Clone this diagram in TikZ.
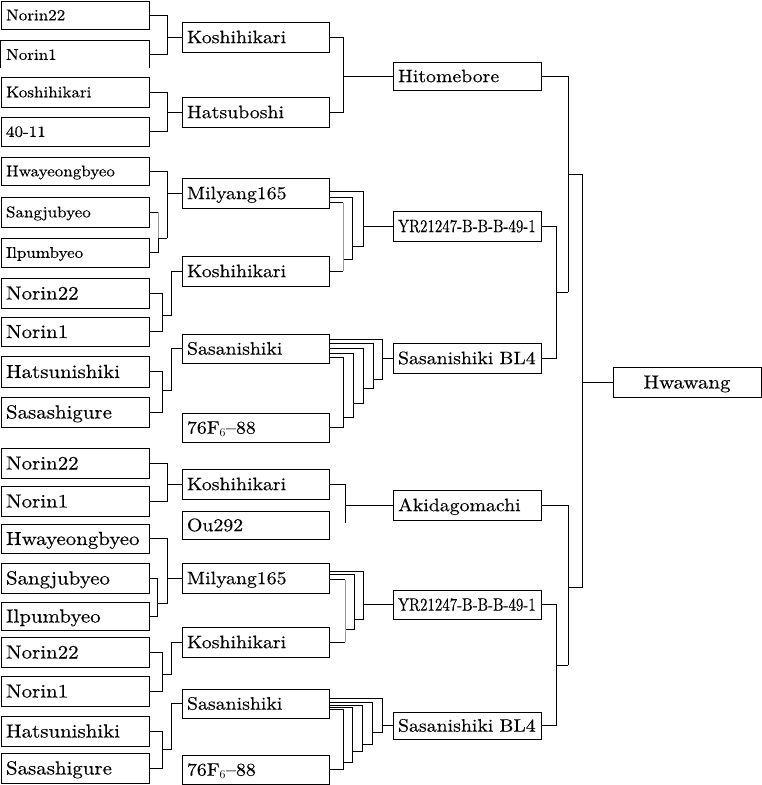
\documentclass[tikz,border=0pt]{standalone}
\usepackage{fontspec}
\setmainfont{lmroman10-regular.otf}[FakeStretch=1.1,FakeBold=0.3]
\usepackage{graphicx}
\usetikzlibrary{calc}
\newcommand\myfs{\fontsize{15.5}{18}\selectfont}
\newcommand\myfl{\fontsize{19}{22}\selectfont}
\newcommand\myfm{\fontsize{18}{21}\selectfont}
\tikzset{
  bx/.style={inner sep=0pt, text depth=0pt, align=left, line width=0.8pt},
  lbox/.style={bx, draw, minimum width=148pt, text width=138pt},
  mbox/.style={bx, draw, minimum width=147pt, text width=137pt, font=\myfm, text height=12.3pt},
  rbox/.style={bx, draw, minimum width=148pt, text width=138pt, font=\myfm, text height=12.3pt},
  sm/.style={font=\myfs, text height=10.6pt},
  lg/.style={font=\myfl, text height=13pt},
  grayline/.style={draw=black!40},
}
\begin{document}
\begin{tikzpicture}[x=1pt,y=-1pt,line width=0.8pt]
\useasboundingbox (0,0) rectangle (762,785);
% left column
\node[lbox,sm,minimum height=28] (L1) at (75,15) {Norin22};
\node[bx,text width=138pt,minimum width=148pt,sm,minimum height=27] (L2) at (75,54.5) {Norin1};
\draw (L2.south west) -- (L2.north west) -- (L2.north east) -- (L2.south east);
\node[lbox,sm,minimum height=30] (L3) at (75,92) {Koshihikari};
\node[lbox,sm,minimum height=29] (L4) at (75,131.5) {40-11};
\node[lbox,sm,minimum height=28] (L5) at (75,171) {Hwayeongbyeo};
\node[lbox,sm,minimum height=30] (L6) at (75,212) {Sangjubyeo};
\node[lbox,sm,minimum height=29] (L7) at (75,252.5) {Ilpumbyeo};
\node[lbox,lg,minimum height=30] (L8) at (75,293) {Norin22};
\node[lbox,lg,minimum height=29] (L9) at (75,331.5) {Norin1};
\node[lbox,lg,minimum height=31] (L10) at (75,371.5) {Hatsunishiki};
\node[lbox,lg,minimum height=30] (L11) at (75,412) {Sasashigure};
\node[lbox,lg,minimum height=30] (L12) at (75,463) {Norin22};
\node[lbox,lg,minimum height=30] (L13) at (75,501) {Norin1};
\node[lbox,lg,minimum height=29] (L14) at (75,538.5) {Hwayeongbyeo};
\node[lbox,lg,minimum height=30] (L15) at (75,578) {Sangjubyeo};
\node[lbox,lg,minimum height=28] (L16) at (75,616) {Ilpumbyeo};
\node[lbox,lg,minimum height=30] (L17) at (75,652) {Norin22};
\node[lbox,lg,minimum height=30] (L18) at (75,691) {Norin1};
\node[lbox,lg,minimum height=30] (L19) at (75,731) {Hatsunishiki};
\node[lbox,lg,minimum height=30] (L20) at (75,768) {Sasashigure};
% middle column
\node[mbox,minimum height=30] (M1) at (255.5,37) {Koshihikari};
\node[mbox,minimum height=30] (M2) at (255.5,112) {Hatsuboshi};
\node[mbox,minimum height=30] (M3) at (255.5,193) {Milyang165};
\node[mbox,minimum height=30] (M4) at (255.5,271) {Koshihikari};
\node[mbox,minimum height=29] (M5) at (255.5,348.5) {Sasanishiki};
\node[mbox,minimum height=29] (M6) at (255.5,427.5) {76F$_6$--88};
\node[mbox,minimum height=30] (M7) at (255.5,484) {Koshihikari};
\node[mbox,minimum height=28] (M8) at (255.5,525) {Ou292};
\node[mbox,minimum height=30] (M9) at (255.5,578) {Milyang165};
\node[mbox,minimum height=30] (M10) at (255.5,642) {Koshihikari};
\node[mbox,minimum height=29] (M11) at (255.5,703.5) {Sasanishiki};
\node[mbox,minimum height=29] (M12) at (255.5,769.5) {76F$_6$--88};
% right column
\node[rbox,minimum height=28] (R1) at (467,76) {Hitomebore};
\node[rbox,minimum height=30] (R2) at (467,226) {\scalebox{0.75}[1]{YR21247-B-B-B-49-1}};
\node[rbox,minimum height=30] (R3) at (467,358) {Sasanishiki BL4};
\node[rbox,minimum height=30] (R4) at (467,505) {Akidagomachi};
\node[rbox,minimum height=29] (R5) at (467,604.5) {\scalebox{0.75}[1]{YR21247-B-B-B-49-1}};
\node[rbox,minimum height=27] (R6) at (467,725.5) {Sasanishiki BL4};
\node[bx,draw,align=center,minimum width=148pt,minimum height=30,text height=13pt,font=\fontsize{19}{22}\selectfont] (H) at (687,382) {Hwawang};
% left connectors
\draw (L1.east) -- ++(18,0) |- (L2.east);
\draw (M1.west) -- ++(-15,0);
\draw (L3.east) -- ++(18,0) |- (L4.east);
\draw (M2.west) -- ++(-15,0);
\draw (L5.east) -- ++(18,0) -- ++(0,67);
\draw (L6.east) -- ++(9,0) coordinate (s1);
\draw[grayline] (s1) -- ++(0,26) coordinate (s2);
\draw (s2) |- (L7.east);
\draw (s2) -- ++(9,0);
\draw (M3.west) -- ++(-15,0);
\draw (L8.east) -- ++(13,0) |- (L9.east);
\draw (M4.west) -- ++(-10,0) -- ++(0,44) -- ++(-10,0);
\draw (L10.east) -- ++(13,0) |- (L11.east);
\draw (M5.west) -- ++(-10,0) -- ++(0,42) -- ++(-10,0);
\draw (L12.east) -- ++(18,0) |- (L13.east);
\draw (M7.west) -- ++(-15,0);
\draw (L14.east) -- ++(18,0) -- ++(0,65);
\draw (L15.east) -- ++(8,0) |- (L16.east);
\draw ($(L15.east)+(8,25.5)$) -- ++(10,0);
\draw (M9.west) -- ++(-15,0);
\draw (L17.east) -- ++(13,0) |- (L18.east);
\draw (M10.west) -- ++(-10,0) -- ++(0,32) -- ++(-10,0);
\draw (L19.east) -- ++(13,0) |- (L20.east);
\draw (M11.west) -- ++(-10,0) -- ++(0,46) -- ++(-10,0);
% middle connectors
\draw (M1.east) -- ++(14,0) |- (M2.east);
\draw (R1.west) -- ++(-50,0);
\draw ($(M3.north east)+(0,14)$) -- ++(34,0) -- ++(0,55) -- ++(-11,0);
\draw ($(M3.north east)+(0,20)$) -- ++(23,0) -- ++(0,62) -- ++(-9,0);
\draw ($(M3.north east)+(0,25)$) -- ++(14,0) coordinate (u1);
\draw[grayline] (u1) -- (u1 |- M4.east);
\draw (u1 |- M4.east) -- (M4.east);
\draw (R2.west) -- ++(-30,0);
\draw ($(M5.north east)+(0,6)$) -- ++(53,0) -- ++(0,40) -- ++(-9,0);
\draw ($(M5.north east)+(0,10)$) -- ++(44,0) -- ++(0,45) -- ++(-10,0);
\draw ($(M5.north east)+(0,15)$) -- ++(34,0) -- ++(0,55) -- ++(-10,0);
\draw ($(M5.north east)+(0,20)$) -- ++(24,0) -- ++(0,64) -- ++(-10,0);
\draw ($(M5.north east)+(0,24)$) -- ++(14,0) |- (M6.east);
\draw (R3.west) -- ++(-11,0);
\draw (M7.east) -- ++(16,0) -- ++(0,39);
\draw (R4.west) -- ++(-48,0);
\draw ($(M9.north east)+(0,9)$) -- ++(34,0) -- ++(0,48) -- ++(-9,0);
\draw ($(M9.north east)+(0,12)$) -- ++(25,0) -- ++(0,55) -- ++(-9,0);
\draw ($(M9.north east)+(0,17)$) -- ++(16,0) coordinate (u2);
\draw[grayline] (u2) -- (u2 |- M10.east);
\draw (u2 |- M10.east) -- (M10.east);
\draw (R5.west) -- ++(-30,0);
\draw ($(M11.north east)+(0,10)$) -- ++(53,0) -- ++(0,34) -- ++(-10,0);
\draw ($(M11.north east)+(0,14)$) -- ++(43,0) -- ++(0,42) -- ++(-10,0);
\draw ($(M11.north east)+(0,17)$) -- ++(33,0) -- ++(0,46) -- ++(-10,0);
\draw ($(M11.north east)+(0,19)$) -- ++(23,0) -- ++(0,55) -- ++(-9,0);
\draw ($(M11.north east)+(0,21)$) -- ++(14,0) |- (M12.east);
\draw (R6.west) -- ++(-11,0);
% right connectors
\draw (R1.east) -- ++(27,0) -- ++(0,216);
\draw (R2.east) -- ++(15,0) |- (R3.east);
\draw ($(R2.east)+(15,66)$) -- ++(12,0);
\draw ($(R1.east)+(27,98)$) -- ++(14,0) -- ++(0,413) -- ++(-14,0);
\draw (H.west) -- ++(-31,0);
\draw (R4.east) -- ++(27,0) -- ++(0,160);
\draw (R5.east) -- ++(15,0) |- (R6.east);
\draw ($(R5.east)+(15,60.5)$) -- ++(12,0);
\end{tikzpicture}
\end{document}
